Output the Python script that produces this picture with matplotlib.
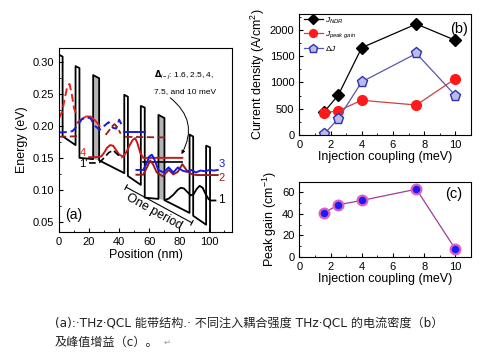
import matplotlib
matplotlib.use('Agg')
import matplotlib.pyplot as plt
from matplotlib.ticker import MultipleLocator

plt.rcParams['font.family'] = ['Liberation Sans', 'DejaVu Sans']
plt.rcParams['mathtext.fontset'] = 'custom'
plt.rcParams['mathtext.rm'] = 'Liberation Sans'
plt.rcParams['mathtext.it'] = 'Liberation Sans:italic'

# ---- panel (a): conduction band profile
band_x = [0, 2.4, 2.4, 11.0, 11.0, 13.6, 13.6, 22.7, 22.7, 26.7, 26.7, 43.4,
          43.4, 45.8, 45.8, 54.4, 54.4, 57.0, 57.0, 66.1, 66.1, 70.1, 70.1, 86.8,
          86.8, 89.2, 89.2, 97.8, 97.8, 100.4, 100.4]
band_e = [0.312, 0.309, 0.184, 0.170, 0.294, 0.291, 0.150, 0.148, 0.280, 0.275, 0.146, 0.126,
          0.249, 0.246, 0.1215, 0.1075, 0.2315, 0.229, 0.0875, 0.0855, 0.2175, 0.2125, 0.0835, 0.0635,
          0.1865, 0.1835, 0.059, 0.045, 0.169, 0.1665, 0.02]
gray_barriers = [(22.7, 26.7, 0.280, 0.275, 0.148, 0.146),
                 (66.1, 70.1, 0.2175, 0.2125, 0.0855, 0.0835)]

# wavefunctions
red_dash_x = [0, 2, 4, 5.5, 7, 8.5, 10, 12]
red_dash_e = [0.212, 0.222, 0.245, 0.262, 0.266, 0.250, 0.228, 0.215]
red_prev_x = [12, 15, 18, 21, 24, 27]
red_prev_e = [0.205, 0.211, 0.215, 0.215, 0.209, 0.200]
blue_dash_x = [0, 3, 6, 9, 12, 15, 18, 21, 24, 27, 30, 33, 36, 38, 40, 42]
blue_dash_e = [0.190, 0.190, 0.191, 0.192, 0.200, 0.210, 0.214, 0.212, 0.200, 0.194,
               0.200, 0.206, 0.197, 0.196, 0.210, 0.200]
maroon_dash_x = [0, 13]
maroon_dash_e = [0.183, 0.184]
maroon_c_x = [31, 33, 35, 37, 39, 41]
maroon_c_e = [0.186, 0.192, 0.199, 0.203, 0.197, 0.188]
maroon_flat_x = [44, 72]
maroon_flat_e = [0.183, 0.182]
blue_flat_x = [43.5, 57]
blue_flat_e = [0.191, 0.191]

red4_x = [20, 24, 28, 30, 32, 34, 36, 38, 40, 42.8, 45, 47, 49, 50.6, 52, 54, 56, 82]
red4_e = [0.151, 0.151, 0.152, 0.158, 0.166, 0.170, 0.169, 0.162, 0.155, 0.152, 0.160,
          0.170, 0.178, 0.181, 0.174, 0.158, 0.150, 0.150]
black1p_x = [20, 24, 27, 30, 33, 36, 39, 42]
black1p_e = [0.142, 0.142, 0.143, 0.150, 0.158, 0.162, 0.155, 0.150]
black_flat_x = [56, 82]
black_flat_e = [0.144, 0.144]

blue3_x = [51.5, 56, 58, 60, 61.7, 63.5, 66, 69.5, 72.9, 76, 79, 82, 85, 88, 91, 94, 97, 100, 103, 105.5]
blue3_e = [0.131, 0.131, 0.140, 0.152, 0.155, 0.147, 0.131, 0.127, 0.135, 0.127, 0.135, 0.130,
           0.128, 0.131, 0.127, 0.130, 0.129, 0.131, 0.130, 0.131]
maroon2_x = [51.5, 56, 58.5, 60.6, 62.5, 65, 69, 73, 76, 79, 82, 85, 88.5, 92, 96, 100, 105.5]
maroon2_e = [0.1235, 0.1235, 0.135, 0.146, 0.140, 0.127, 0.121, 0.131, 0.124, 0.128, 0.140,
             0.130, 0.124, 0.123, 0.123, 0.123, 0.123]
black1_x = [70.5, 73, 76, 79, 81, 83, 85.5, 87.5, 89.5, 91.5, 93.5, 95.5, 97.5, 99.5, 101, 104]
black1_e = [0.084, 0.086, 0.092, 0.100, 0.103, 0.102, 0.096, 0.091, 0.093, 0.101, 0.106,
            0.103, 0.093, 0.085, 0.083, 0.083]

# ---- panel (b), (c)
coupling = [1.6, 2.5, 4, 7.5, 10]
j_ndr = [440, 760, 1660, 2110, 1800]
j_peak = [420, 460, 660, 570, 1070]
delta_j = [20, 310, 1010, 1550, 750]
peak_gain = [41, 48.5, 52.5, 63, 7]

RED = '#e8211a'
MAROON = '#9b1c1c'
BLUE = '#1a1ae0'

fig = plt.figure(figsize=(4.8, 3.6), dpi=100)

# ---------------- (a)
ax = fig.add_axes([0.1229, 0.3564, 0.3604, 0.5111])
for x0, x1, t0, t1, b0, b1 in gray_barriers:
    ax.fill([x0, x0, x1, x1], [b0, t0, t1, b1], color='#b4b4b4', lw=0)
ax.plot(band_x, band_e, color='black', lw=1.3)

ax.plot(red_dash_x, red_dash_e, color=RED, lw=1.4, ls=(0, (4, 2)))
ax.plot(red_prev_x, red_prev_e, color=RED, lw=1.3)
ax.plot(blue_dash_x, blue_dash_e, color=BLUE, lw=1.4, ls=(0, (4, 2)))
ax.plot(maroon_dash_x, maroon_dash_e, color=MAROON, lw=1.3, ls=(0, (4, 2)))
ax.plot(maroon_c_x, maroon_c_e, color=MAROON, lw=1.3, ls=(0, (4, 2)))
ax.plot(maroon_flat_x, maroon_flat_e, color=MAROON, lw=1.3, ls=(0, (4, 2)))
ax.plot(blue_flat_x, blue_flat_e, color=BLUE, lw=1.4)
ax.plot(black_flat_x, black_flat_e, color='black', lw=1.2)
ax.plot(red4_x, red4_e, color='#c81818', lw=1.4)
ax.plot(black1p_x, black1p_e, color='black', lw=1.2, ls=(0, (4, 2)))
ax.plot(maroon2_x, maroon2_e, color=MAROON, lw=1.4)
ax.plot(blue3_x, blue3_e, color=BLUE, lw=1.4)
ax.plot(black1_x, black1_e, color='black', lw=1.3)

ax.text(14, 0.157, '4', color=RED, fontsize=8, ha='left', va='center')
ax.text(13.5, 0.140, "1'", color='black', fontsize=8, ha='left', va='center')
ax.text(106, 0.140, '3', color=BLUE, fontsize=8, ha='left', va='center')
ax.text(106, 0.119, '2', color=MAROON, fontsize=8, ha='left', va='center')
ax.text(106, 0.084, '1', color='black', fontsize=8.5, ha='left', va='center')

ax.text(83, 0.281, r'$\mathbf{\Delta}_{i-j}$: 1.6, 2.5, 4,', fontsize=6, ha='center', va='center')
ax.text(84, 0.2545, '7.5, and 10 meV', fontsize=6, ha='center', va='center')
ax.annotate('', xy=(80.5, 0.152), xytext=(72.5, 0.247),
            arrowprops=dict(arrowstyle='-|>', color='black', lw=0.7, mutation_scale=5,
                            connectionstyle='arc3,rad=-0.45'))

ax.annotate('', xy=(88.4, 0.048), xytext=(44.6, 0.104),
            arrowprops=dict(arrowstyle='|-|', color='black', lw=0.8, mutation_scale=2,
                            shrinkA=0, shrinkB=0))
ax.text(63.5, 0.066, 'One period', fontsize=9, rotation=-29, ha='center', va='center',
        rotation_mode='anchor')
ax.text(0.035, 0.09, '(a)', transform=ax.transAxes, fontsize=10, ha='left', va='center')

ax.set_xlim(0, 115)
ax.set_ylim(0.034, 0.323)
ax.xaxis.set_major_locator(MultipleLocator(20))
ax.xaxis.set_minor_locator(MultipleLocator(10))
ax.yaxis.set_major_locator(MultipleLocator(0.05))
ax.yaxis.set_minor_locator(MultipleLocator(0.025))
ax.yaxis.set_major_formatter(plt.FuncFormatter(lambda v, p: f'{v:.2f}'))
ax.tick_params(direction='in', labelsize=8, length=3, top=False, right=False)
ax.tick_params(which='minor', direction='in', length=1.5, top=False, right=False)
ax.set_xlabel('Position (nm)', fontsize=9, labelpad=2)
ax.set_ylabel('Energy (eV)', fontsize=9, labelpad=3)

# ---------------- (b)
bx = fig.add_axes([0.6235, 0.625, 0.3578, 0.3361])
bx.plot(coupling, j_ndr, color='black', lw=0.9, marker='D', ms=6,
        mfc='black', mec='black', label=r'$J_{NDR}$')
bx.plot(coupling, j_peak, color='#d04040', lw=0.9, marker='o', ms=7,
        mfc='#ff1a1a', mec='#ff1a1a', label=r'$J_{peak\ gain}$')
bx.plot(coupling, delta_j, color='#5858a8', lw=0.9, marker='p', ms=8,
        mfc='#b8bce8', mec='#3030b0', label=r'$\Delta J$')
bx.legend(loc='upper left', frameon=False, fontsize=6, handlelength=2.2,
          labelspacing=0.45, borderaxespad=0.2, handletextpad=0.3,
          bbox_to_anchor=(0.0, 1.03), markerscale=0.8)
bx.text(0.93, 0.88, '(b)', transform=bx.transAxes, fontsize=10.5, ha='center', va='center')
bx.set_xlim(0, 11)
bx.set_ylim(0, 2300)
bx.xaxis.set_major_locator(MultipleLocator(2))
bx.xaxis.set_minor_locator(MultipleLocator(1))
bx.yaxis.set_major_locator(MultipleLocator(500))
bx.yaxis.set_minor_locator(MultipleLocator(250))
bx.tick_params(direction='in', labelsize=8, length=3, top=False, right=False)
bx.tick_params(which='minor', direction='in', length=1.5, top=False, right=False)
bx.set_xlabel('Injection coupling (meV)', fontsize=9, labelpad=1)
bx.set_ylabel('Current density (A/cm$^2$)', fontsize=9, labelpad=2)

# ---------------- (c)
cx = fig.add_axes([0.6235, 0.2869, 0.3578, 0.2084])
cx.plot(coupling, peak_gain, color='#a03c9c', lw=0.9, marker='o', ms=7,
        mfc='#1a1aff', mec='#e060b8', mew=1.6)
cx.text(0.9, 0.84, '(c)', transform=cx.transAxes, fontsize=10.5, ha='center', va='center')
cx.set_xlim(0, 11)
cx.set_ylim(0, 70)
cx.xaxis.set_major_locator(MultipleLocator(2))
cx.xaxis.set_minor_locator(MultipleLocator(1))
cx.yaxis.set_major_locator(MultipleLocator(20))
cx.yaxis.set_minor_locator(MultipleLocator(10))
cx.tick_params(direction='in', labelsize=8, length=3, top=False, right=False)
cx.tick_params(which='minor', direction='in', length=1.5, top=False, right=False)
cx.set_xlabel('Injection coupling (meV)', fontsize=9, labelpad=1)
cx.set_ylabel('Peak gain (cm$^{-1}$)', fontsize=9, labelpad=2)

# ---------------- caption
cap_font = ['DejaVu Sans', 'Noto Sans CJK SC']
fig.text(0.1146, 0.103, '(a):·THz·QCL 能带结构.· 不同注入耦合强度 THz·QCL 的电流密度（b）',
         fontsize=8.7, family=cap_font, color='#222222', ha='left', va='center')
fig.text(0.1146, 0.05, '及峰值增益（c）。', fontsize=8.7, family=cap_font,
         color='#222222', ha='left', va='center')
fig.text(0.34, 0.05, '↵', fontsize=6, family=['DejaVu Sans'], color='#999999',
         ha='left', va='center')

fig.savefig('out.png', dpi=100)
